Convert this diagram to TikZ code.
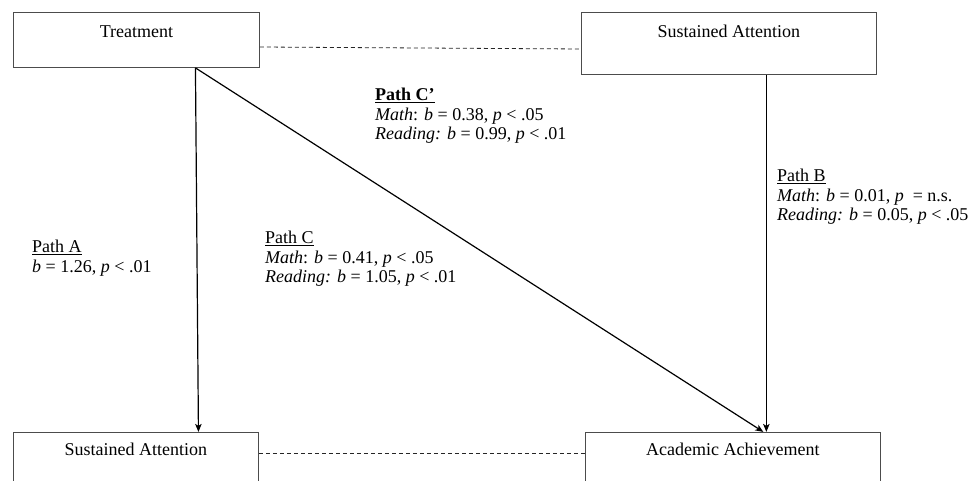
\documentclass[tikz,border=0pt]{standalone}
\usepackage{fontspec}
\setmainfont{Liberation Serif}
\usepackage{tikz}
\usetikzlibrary{arrows.meta}
\usetikzlibrary{positioning}

\begin{document}
\begin{tikzpicture}[-,>={Stealth[length=8pt,width=6.5pt,inset=2pt]},x=1pt,y=1pt,
                    box/.style={rectangle,draw=black!70,line width=0.9pt,inner sep=0pt,
                                font=\fontsize{18}{20}\selectfont},
                    top box/.style={box,text height=25pt},
                    low box/.style={box,text height=23pt,text depth=40pt},
                    path/.style={->,line width=1.2pt},
                    link/.style={-,draw=black!85,line width=0.8pt,dash pattern=on 4pt off 3pt},
                    note/.style={align=left,anchor=north west,inner sep=0pt,
                                 font=\fontsize{18}{19.5}\selectfont}]

  \useasboundingbox (0,0) rectangle (969,-481);

  \node[top box,minimum width=246pt,text depth=30pt,anchor=north west] (treat) at (13,-12) {Treatment};
  \node[top box,minimum width=295pt,text depth=37pt,right=321pt of treat.north east,anchor=north west] (attn) {Sustained Attention};
  \node[low box,minimum width=245pt,below=364pt of treat.south west,anchor=north west] (attn2) {Sustained Attention};
  \node[low box,minimum width=295pt,right=326pt of attn2.north east,anchor=north west] (achieve) {Academic Achievement};

  % paths
  \draw[path] ([xshift=59pt]treat.south) -- ([xshift=62.5pt]attn2.north);
  \draw[path] ([xshift=59pt]treat.south) -- ([xshift=30.5pt]achieve.north);
  \draw[path] ([xshift=37.5pt]attn.south) -- ([xshift=33.5pt]achieve.north);

  % correlations
  \draw[link] ([yshift=-35pt]treat.north east) -- ([yshift=-37pt]attn.north west);
  \draw[link] ([yshift=-21pt]attn2.north east) -- ([yshift=-21pt]achieve.north west);

  \node[note] (pathcp) at (375,-88) {\underline{\textbf{Path C’}}\\
    \textit{Math}: \textit{b} = 0.38, \textit{p} < .05\\
    \textit{Reading:} \textit{b} = 0.99, \textit{p} < .01};
  \node[note] (pathb) at (777,-169) {\underline{Path B}\\
    \textit{Math}: \textit{b} = 0.01, \textit{p}\ \ = n.s.\\
    \textit{Reading:} \textit{b} = 0.05, \textit{p} < .05};
  \node[note] (pathc) at (265,-231) {\underline{Path C}\\
    \textit{Math}: \textit{b} = 0.41, \textit{p} < .05\\
    \textit{Reading:} \textit{b} = 1.05, \textit{p} < .01};
  \node[note] (patha) at (32,-240) {\underline{Path A}\\
    \textit{b} = 1.26, \textit{p} < .01};
\end{tikzpicture}
\end{document}
